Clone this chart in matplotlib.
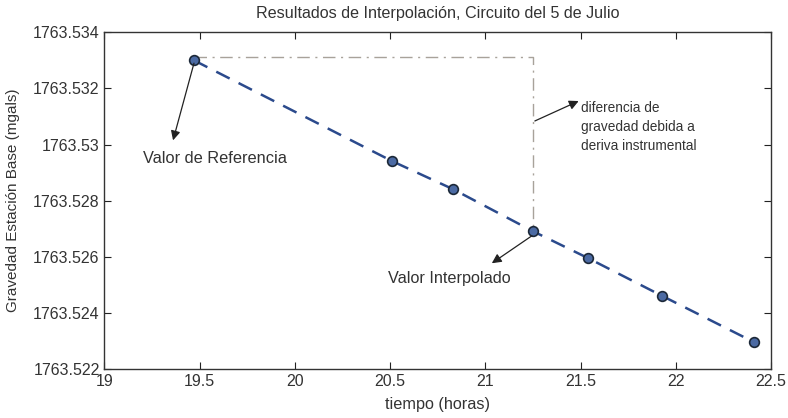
import matplotlib
matplotlib.use("Agg")
import matplotlib.pyplot as plt

plt.rcParams['font.family'] = ['Liberation Sans', 'DejaVu Sans']

# Data
tiempo = [19.47, 20.51, 20.83, 21.25, 21.54, 21.93, 22.41]
gravedad = [1763.5330, 1763.52941, 1763.52841, 1763.52691, 1763.52595, 1763.52460, 1763.52296]
ref_x = 19.47
ref_level = 1763.53313
interp_x = 21.25
interp_y = 1763.52691

xticks = [19, 19.5, 20, 20.5, 21, 21.5, 22, 22.5]
yticks = [1763.522, 1763.524, 1763.526, 1763.528, 1763.53, 1763.532, 1763.534]
ytick_labels = ['1763.522', '1763.524', '1763.526', '1763.528', '1763.53', '1763.532', '1763.534']
xtick_labels = ['19', '19.5', '20', '20.5', '21', '21.5', '22', '22.5']

fig = plt.figure(figsize=(7.88, 4.18), dpi=100)
ax = fig.add_axes([0.1326, 0.1172, 0.8458, 0.8055])

# drift reference lines (dash-dot)
ax.plot([ref_x, interp_x, interp_x], [ref_level, ref_level, interp_y],
        linestyle=(0, (9, 4, 1.5, 4)), color='#a8a29a', linewidth=1.0, zorder=1)

ax.plot(tiempo, gravedad, linestyle=(0, (6, 4)), color='#2b4a8c', linewidth=1.8,
        marker='o', markersize=7, markerfacecolor='#4b6aa3', markeredgecolor='#1c2838',
        markeredgewidth=1.2, zorder=3)

ax.set_xlim(19, 22.5)
ax.set_ylim(1763.522, 1763.534)
ax.set_xticks(xticks)
ax.set_xticklabels(xtick_labels)
ax.set_yticks(yticks)
ax.set_yticklabels(ytick_labels)
ax.tick_params(direction='in', top=True, right=True, length=5, width=0.8,
               labelsize=11.5, colors='#222222', labelcolor='#333333')
for s in ax.spines.values():
    s.set_color('#333333')
    s.set_linewidth(1.0)

ax.set_title('Resultados de Interpolación, Circuito del 5 de Julio', fontsize=11.6,
             color='#333333', pad=10)
ax.set_xlabel('tiempo (horas)', fontsize=11.7, color='#333333', labelpad=6)
ax.set_ylabel('Gravedad Estación Base (mgals)', fontsize=11, color='#333333', labelpad=9)

arrow = dict(arrowstyle='-|>', color='#222222', lw=0.9, mutation_scale=14, shrinkA=0, shrinkB=0)
ax.annotate('', xy=(19.36, 1763.53015), xytext=(19.47, 1763.5329), arrowprops=arrow)
ax.text(19.2, 1763.52951, 'Valor de Referencia', fontsize=11.8, color='#333333',
        va='center', ha='left')

ax.annotate('', xy=(21.49, 1763.53155), xytext=(21.26, 1763.53084), arrowprops=arrow)
ax.text(21.5, 1763.53062, 'diferencia de\ngravedad debida a\nderiva instrumental',
        fontsize=9.8, color='#333333', va='center', ha='left', linespacing=1.45)

ax.annotate('', xy=(21.034, 1763.52577), xytext=(21.245, 1763.52675), arrowprops=arrow)
ax.text(20.49, 1763.52524, 'Valor Interpolado', fontsize=11.7, color='#333333',
        va='center', ha='left')

fig.savefig('out.png', dpi=100)
